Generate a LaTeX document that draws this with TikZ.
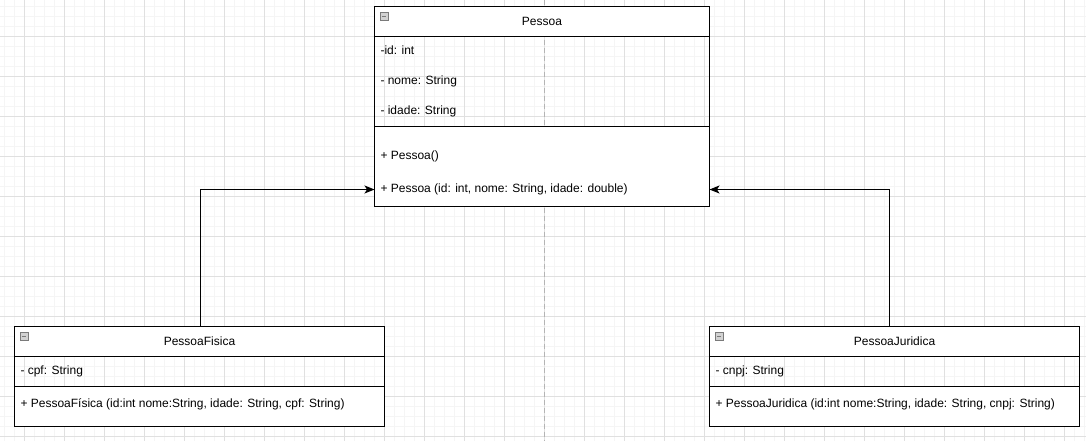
\documentclass[tikz,border=0pt]{standalone}
\usepackage{fontspec}
\setmainfont{Liberation Sans}
\usetikzlibrary{arrows.meta}
\definecolor{minorgrid}{HTML}{F5F5F5}
\definecolor{majorgrid}{HTML}{E0E0E0}
\definecolor{guide}{HTML}{B4B4B4}
\definecolor{iconfill}{HTML}{D2D2D2}
\definecolor{iconline}{HTML}{7A7A7A}
\begin{document}
\begin{tikzpicture}[x=1pt,y=-1pt,
  sec/.style={draw=black,line width=1pt,inner sep=0pt,outer sep=0pt,anchor=north west,
     font=\fontsize{12}{14}\selectfont},
  solid sec/.style={sec,fill=white},
  txt/.style={anchor=west,inner sep=0pt,outer sep=0pt,font=\fontsize{12}{14}\selectfont,
     text height=8.6pt,text depth=2.5pt},
  icon/.style={draw=iconline,fill=iconfill,line width=0.8pt,minimum size=8pt,inner sep=0pt,outer sep=0pt},
  iconbar/.style={draw=iconline,line width=0.9pt},
  conn/.style={draw=black,line width=1pt,-{Stealth[length=10pt,width=8pt,inset=2.5pt]}}
]
\useasboundingbox (0,0) rectangle (1086,440);
\fill[white] (0,0) rectangle (1086,440);
\begin{scope}[shift={(0.5,0.5)}]
% minor grid
\foreach \x in {4,14,...,1084} \draw[minorgrid,line width=1pt] (\x,-1) -- (\x,441);
\foreach \y in {6,16,...,436} \draw[minorgrid,line width=1pt] (-1,\y) -- (1087,\y);
% major grid
\foreach \x in {24,64,...,1064} \draw[majorgrid,line width=1pt] (\x,-1) -- (\x,441);
\foreach \y in {36,76,...,436} \draw[majorgrid,line width=1pt] (-1,\y) -- (1087,\y);
% guide line
\draw[guide,line width=1pt,dash pattern=on 5pt off 3pt] (544,-1) -- (544,441);

% Pessoa
\node[solid sec,minimum width=335pt,minimum height=30pt] (pH) at (374,6) {Pessoa};
\node[sec,minimum width=335pt,minimum height=90pt] (pA) at (374,36) {};
\node[solid sec,minimum width=335pt,minimum height=80pt] (pM) at (374,126) {};
\node[icon] (pI) at (383.5,15.5) {};
\draw[iconbar] ([xshift=1.8pt]pI.west) -- ([xshift=-1.8pt]pI.east);
\node[txt] (pa1) at (380,51) {-id: int};
\node[txt] (pa2) at (380,81) {- nome: String};
\node[txt] (pa3) at (380,111) {- idade: String};
\node[txt] (pm1) at (380,155.5) {+ Pessoa()};
\node[txt] (pm2) at (380,189) {+ Pessoa (id: int, nome: String, idade: double)};

% PessoaFisica
\node[solid sec,minimum width=370pt,minimum height=30pt] (fH) at (14,326) {PessoaFisica};
\node[sec,minimum width=370pt,minimum height=30pt] (fA) at (14,356) {};
\node[solid sec,minimum width=370pt,minimum height=40pt] (fM) at (14,386) {};
\node[icon] (fI) at (23.5,335.5) {};
\draw[iconbar] ([xshift=1.8pt]fI.west) -- ([xshift=-1.8pt]fI.east);
\node[txt] (fa1) at (20,371) {- cpf: String};
\node[txt] (fm1) at (20,403.5) {+ PessoaFísica (id:int nome:String, idade: String, cpf: String)};

% PessoaJuridica
\node[solid sec,minimum width=370pt,minimum height=30pt] (jH) at (709,326) {PessoaJuridica};
\node[sec,minimum width=370pt,minimum height=30pt] (jA) at (709,356) {};
\node[solid sec,minimum width=370pt,minimum height=40pt] (jM) at (709,386) {};
\node[icon] (jI) at (718.5,335.5) {};
\draw[iconbar] ([xshift=1.8pt]jI.west) -- ([xshift=-1.8pt]jI.east);
\node[txt] (ja1) at (715,371) {- cnpj: String};
\node[txt] (jm1) at (715,403.5) {+ PessoaJuridica (id:int nome:String, idade: String, cnpj: String)};

% connectors
\coordinate (inL) at (374,189);
\coordinate (inR) at (709,189);
\coordinate (outF) at (200,326);
\coordinate (outJ) at (889,326);
\draw[conn] (outF) |- (inL);
\draw[conn] (outJ) |- (inR);
\end{scope}
\end{tikzpicture}
\end{document}
